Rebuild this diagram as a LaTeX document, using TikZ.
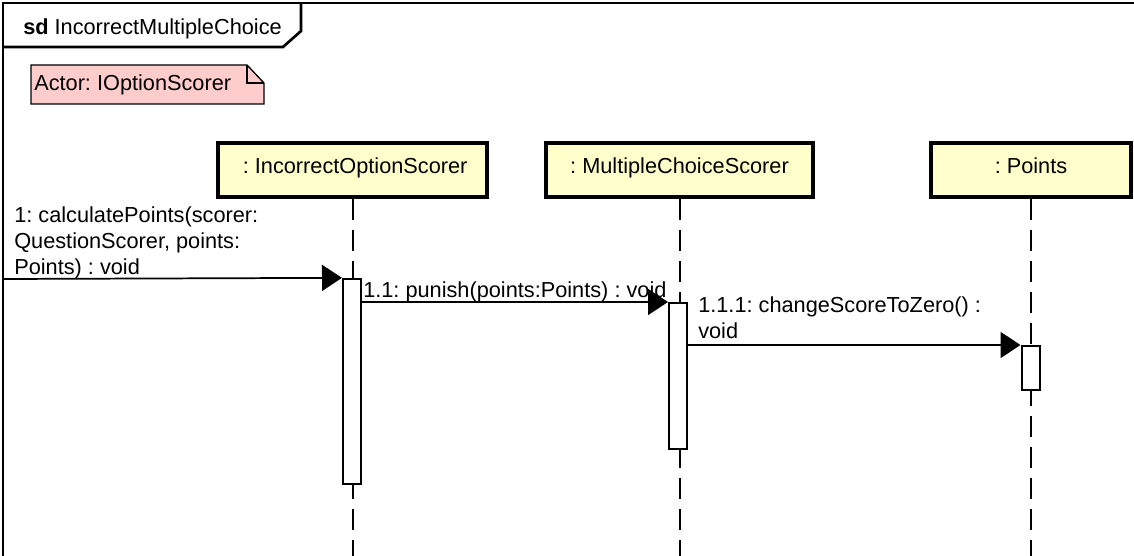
\documentclass[tikz,border=0pt]{standalone}
\usepackage{fontspec}
\setmainfont{Liberation Sans}
\usepackage{tikz}
\usetikzlibrary{arrows.meta,calc,positioning}

\definecolor{headfill}{RGB}{255,255,204}
\definecolor{notefill}{RGB}{255,204,204}

\begin{document}
\frenchspacing
\begin{tikzpicture}[x=0.75pt,y=-0.75pt,
  font=\fontsize{16.3pt}{19.5pt}\selectfont,
  head/.style={draw,line width=3pt,fill=headfill,minimum height=40pt,inner sep=0pt,text height=11.7pt,text depth=6.8pt},
  bar/.style={draw,line width=1.5pt,fill=white,minimum width=13.5pt,inner sep=0pt},
  lifeline/.style={line width=1.5pt,dash pattern=on 15.75pt off 7.5pt},
  msg/.style={line width=1.3pt,-{Triangle[length=15pt,width=19.5pt]}},
  lbl/.style={inner sep=0pt,align=left}]
\useasboundingbox (0,0) rectangle (1134,556);
\coordinate (bottom) at (0,575);
% frame and title tab
\draw[line width=2pt] (3,3) rectangle (1170,590);
\draw[line width=2pt] (3,47) -- (283,47) -- (301,31) -- (301,3);
\node[anchor=base west,inner sep=0pt] (title) at (23,35) {\textbf{sd} IncorrectMultipleChoice};
% note
\draw[line width=1pt,fill=notefill] (31,65) -- (247,65) -- (264,83) -- (264,104) -- (31,104) -- cycle;
\draw[line width=1pt] (247,65) -- (247,83) -- (264,83);
\node[anchor=base west,inner sep=0pt] (actor) at (34,91) {Actor: IOptionScorer};
% lifelines
\node[head,minimum width=202pt] (IOS) at (352.5,170) {\hspace*{4pt}: IncorrectOptionScorer};
\node[head,minimum width=200pt] (MCS) at (679.5,170) {: MultipleChoiceScorer};
\node[head,minimum width=150pt] (P) at (1031,170) {: Points};
\foreach \n in {IOS,MCS,P}
  \draw[lifeline] (\n.south) -- (\n.south |- bottom);
% activations
\node[bar,minimum height=154pt] (a1) at (352,381.5) {};
\node[bar,minimum height=109.5pt] (a2) at (678,376) {};
\node[bar,minimum height=33pt] (a3) at (1030.5,368) {};
% messages
\coordinate (in) at (3,279);
\draw[msg] (in) -- (a1.north west);
\node[lbl,anchor=south west] (m1) at (14,279) {1: calculatePoints(scorer:\\QuestionScorer, points:\\Points) : void};
\draw[msg] (a1.east |- a2.north) -- (a2.north west);
\node[lbl,anchor=base west] (m2) at (363,297) {1.1: punish(points:Points) : void};
\draw[msg] (a2.east |- a3.north) -- (a3.north west);
\node[lbl,anchor=south west] (m3) at (698,339) {1.1.1: changeScoreToZero() :\\void};
\end{tikzpicture}
\end{document}
